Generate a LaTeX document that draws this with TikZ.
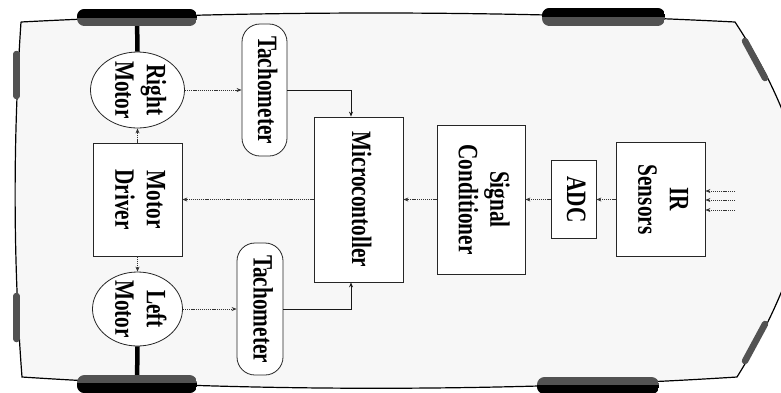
\documentclass[tikz,border=0pt]{standalone}
\usepackage{fontspec}
\newfontfamily\lblfam{Liberation Serif}[FakeStretch=0.76]
\usetikzlibrary{shapes.geometric,arrows.meta}
\newcommand{\vlabel}[1]{\rotatebox{-90}{\begin{tabular}{@{}c@{}}#1\end{tabular}}}
\newcommand{\lblfont}{\lblfam\bfseries\fontsize{28}{31.5}\selectfont}
\begin{document}
\begin{tikzpicture}[x=1pt,y=-1pt,
  box/.style={draw=black!85, line width=0.8pt, fill=white, inner sep=0pt, font=\lblfont},
  motor/.style={ellipse, draw=black!85, line width=0.8pt, fill=white, inner sep=-4pt, font=\lblfont},
  tacho/.style={draw=black!85, line width=0.8pt, fill=white, rounded corners=18pt, inner sep=0pt, font=\lblfont},
  link/.style={draw=black!80, line width=0.7pt, dash pattern=on 1.2pt off 0.9pt, -{Stealth[length=5pt,width=4pt]}},
  solidlink/.style={draw=black!90, line width=0.8pt, -{Stealth[length=5pt,width=4pt]}},
  axle/.style={line width=4.5pt, black},
  sidemark/.style={line width=6.5pt, black!68, line cap=round},
  wheelhatch/.style={fill=black!68},
  wheelsolid/.style={fill=black}]
\useasboundingbox (0,0) rectangle (781,392);
\clip (0,0) rectangle (781,392);
% car body
\path[fill=black!3] (21,22) .. controls (250,10) and (500,10) .. (735,22)
  .. controls (760,60) and (776,92) .. (790,130) -- (790,270)
  .. controls (776,308) and (760,340) .. (737,377)
  .. controls (500,392) and (250,392) .. (22,377)
  .. controls (13,260) and (13,140) .. cycle;
\draw[line width=1.2pt] (21,22) .. controls (250,10) and (500,10) .. (735,22)
  .. controls (760,60) and (776,92) .. (790,130);
\draw[line width=1.2pt] (790,270) .. controls (776,308) and (760,340) .. (737,377)
  .. controls (500,392) and (250,392) .. (22,377)
  .. controls (13,260) and (13,140) .. (21,22);
% side marks
\draw[sidemark] (16.5,54) -- (16.5,96);
\draw[sidemark] (16.5,296) -- (16.5,339);
\draw[sidemark] (745,41) -- (765,78);
\draw[sidemark] (765,324) -- (745,361);
% nodes
\node[motor, minimum width=94pt, minimum height=76pt] (rm) at (137.5,90) {\vlabel{Right\\Motor}};
\node[motor, minimum width=90pt, minimum height=74pt] (lm) at (137.5,309) {\vlabel{Left\\Motor}};
\node[box, minimum width=89pt, minimum height=113pt] (drv) at (137.5,199.5) {\vlabel{Motor\\Driver}};
\node[tacho, minimum width=45pt, minimum height=132pt] (t1) at (264.5,90) {\vlabel{Tachometer}};
\node[tacho, minimum width=46pt, minimum height=132pt] (t2) at (260,309) {\vlabel{Tachometer}};
\node[box, minimum width=89pt, minimum height=165pt] (mc) at (358.5,199.5) {\vlabel{Microcontoller}};
\node[box, minimum width=88pt, minimum height=149pt] (sc) at (481,199.5) {\vlabel{Signal\\Conditioner}};
\node[box, minimum width=45pt, minimum height=78pt] (adc) at (573.5,199.5) {\vlabel{ADC}};
\node[box, minimum width=89pt, minimum height=114pt] (ir) at (660.5,199.5) {\vlabel{IR\\Sensors}};
% wheels and axles
\coordinate (wtl) at (137,17.5);
\coordinate (wbl) at (137,383.5);
\draw[axle] (wtl) -- (rm.north);
\draw[axle] (wbl) -- (lm.south);
\begin{scope}
  \clip[rounded corners=7.5pt] (77,9) rectangle (197,26);
  \fill[wheelhatch] (77,9) rectangle (197,26);
  \fill[wheelsolid] (77,9) rectangle (197,17.5);
\end{scope}
\begin{scope}
  \clip[rounded corners=7.5pt] (542,8) rectangle (665,26);
  \fill[wheelhatch] (542,8) rectangle (665,26);
  \fill[wheelsolid] (542,8) rectangle (665,17);
\end{scope}
\begin{scope}
  \clip[rounded corners=7.5pt] (77,375) rectangle (197,393);
  \fill[wheelhatch] (77,375) rectangle (197,393);
  \fill[wheelsolid] (77,383) rectangle (197,393);
\end{scope}
\begin{scope}
  \clip[rounded corners=7.5pt] (537,377) rectangle (659,394);
  \fill[wheelhatch] (537,377) rectangle (659,394);
  \fill[wheelsolid] (537,385) rectangle (659,394);
\end{scope}
% connectors
\draw[link] (drv.north) -- (rm.south);
\draw[link] (drv.south) -- (lm.north);
\draw[link] (rm.east) -- (t1.west);
\draw[link] (lm.east) -- (t2.west);
\draw[solidlink] (t1.east) -| ([xshift=-7.5pt]mc.north);
\draw[solidlink] (t2.east) -| ([xshift=-7.5pt]mc.south);
\draw[link] (mc.west) -- (drv.east);
\draw[link] (sc.west) -- (mc.east);
\draw[link] (adc.west) -- (sc.east);
\draw[link] (ir.west) -- (adc.east);
\coordinate (in1) at (735,191);
\coordinate (in2) at (735,200);
\coordinate (in3) at (735,210);
\draw[link] (in1) -- (in1 -| ir.east);
\draw[link] (in2) -- (in2 -| ir.east);
\draw[link] (in3) -- (in3 -| ir.east);
\end{tikzpicture}
\end{document}
